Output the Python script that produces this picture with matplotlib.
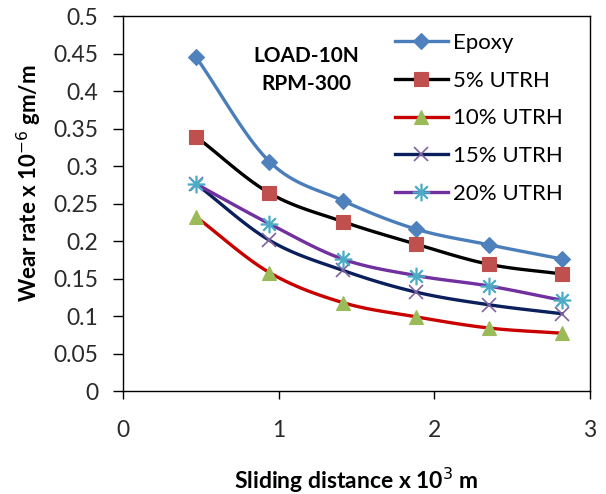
import numpy as np
import matplotlib
matplotlib.use('Agg')
import matplotlib.pyplot as plt

plt.rcParams['font.family'] = ['Lato', 'DejaVu Sans']

# data
distance = [0.47, 0.94, 1.41, 1.88, 2.35, 2.82]
epoxy = [0.445, 0.306, 0.254, 0.216, 0.195, 0.176]
utrh5 = [0.339, 0.264, 0.226, 0.196, 0.169, 0.156]
utrh10 = [0.232, 0.158, 0.118, 0.099, 0.084, 0.077]
utrh15 = [0.276, 0.201, 0.161, 0.132, 0.115, 0.103]
utrh20 = [0.276, 0.223, 0.176, 0.154, 0.140, 0.121]
labels = ['Epoxy', '5% UTRH', '10% UTRH', '15% UTRH', '20% UTRH']


def smooth(x, y, n=20):
    # Catmull-Rom curve through the points, like Excel's smoothed line
    x = np.asarray(x, float)
    y = np.asarray(y, float)
    px = np.concatenate([[2 * x[0] - x[1]], x, [2 * x[-1] - x[-2]]])
    py = np.concatenate([[2 * y[0] - y[1]], y, [2 * y[-1] - y[-2]]])
    xs, ys = [], []
    t = np.linspace(0, 1, n)
    for i in range(1, len(px) - 2):
        for p, out in ((px, xs), (py, ys)):
            p0, p1, p2, p3 = p[i - 1], p[i], p[i + 1], p[i + 2]
            out.extend(0.5 * (2 * p1 + (-p0 + p2) * t
                              + (2 * p0 - 5 * p1 + 4 * p2 - p3) * t ** 2
                              + (-p0 + 3 * p1 - 3 * p2 + p3) * t ** 3))
    return xs, ys


series = [epoxy, utrh5, utrh10, utrh15, utrh20]
line_colors = ['#4A7EBB', '#000000', '#C80000', '#0A1F5C', '#7030A0']
marker_colors = ['#4F81BD', '#C0504D', '#9BBB59', '#8064A2', '#4BACC6']
markers = ['D', 's', '^', 'x', '$\u2733$']
msizes = [8, 10, 10, 10, 12]

fig = plt.figure(figsize=(6.06, 4.94), dpi=100)
ax = fig.add_axes([0.203, 0.2085, 0.7706, 0.7591])

handles = []
for y, lc, mc, mk, ms, lab in zip(series, line_colors, marker_colors, markers, msizes, labels):
    sx, sy = smooth(distance, y)
    ax.plot(sx, sy, color=lc, lw=2.4, zorder=2)
    if mk == 'x':
        ax.plot(distance, y, ls='none', marker=mk, ms=ms, mec=mc, mew=1.2, zorder=3)
    else:
        ax.plot(distance, y, ls='none', marker=mk, ms=ms, mfc=mc, mec=mc, mew=0.8, zorder=3)
    h, = ax.plot([], [], color=lc, lw=2.4, marker=mk, ms=ms, mfc=mc, mec=mc,
                 mew=1.2 if mk == 'x' else 0.8, label=lab)
    handles.append(h)

ax.set_xlim(0, 3)
ax.set_ylim(0, 0.5)
ax.set_xticks([0, 1, 2, 3])
ax.set_xticklabels(['0', '1', '2', '3'])
ax.set_yticks(np.arange(0, 0.501, 0.05))
ax.set_yticklabels(['0', '0.05', '0.1', '0.15', '0.2', '0.25', '0.3', '0.35',
                    '0.4', '0.45', '0.5'])
ax.tick_params(axis='y', direction='out', length=7, width=1, pad=11,
               labelsize=16.5, labelcolor='#2a2a2a')
ax.tick_params(axis='x', direction='out', length=6, width=1, pad=15,
               labelsize=16.5, labelcolor='#2a2a2a')
for s in ax.spines.values():
    s.set_linewidth(1.0)
    s.set_color('#000000')

ax.set_xlabel('Sliding distance x 10$^{3}$ m', fontsize=16.5, fontweight='bold')
ax.set_ylabel('Wear rate x 10$^{-6}$ gm/m', fontsize=16, fontweight='bold')
ax.xaxis.set_label_coords(0.5, -0.2)
ax.yaxis.set_label_coords(-0.17, 0.555)

ax.text(0.392, 0.855, 'LOAD-10N\nRPM-300', transform=ax.transAxes, ha='center',
        va='center', fontsize=15, fontweight='bold', linespacing=1.5)

ax.legend(handles=handles, loc='upper left', bbox_to_anchor=(0.582, 0.955),
          frameon=False, fontsize=16, handlelength=2.4, handletextpad=0.2,
          labelspacing=0.8, borderaxespad=0, borderpad=0)

fig.savefig('out.png', dpi=100)
